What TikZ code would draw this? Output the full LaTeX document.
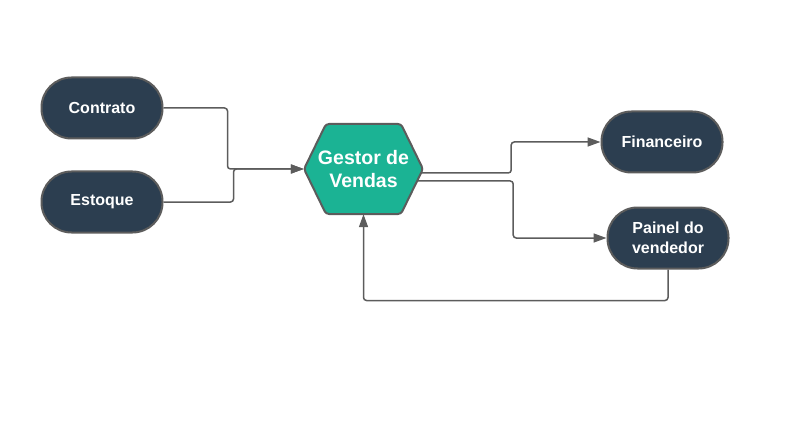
\documentclass[tikz,border=0pt]{standalone}
\usepackage{fontspec}
\setmainfont{Liberation Sans}
\usepackage{tikz}
\usetikzlibrary{calc,arrows.meta}
\definecolor{navy}{RGB}{44, 62, 80}
\definecolor{hexgreen}{RGB}{27, 179, 148}
\definecolor{edge}{RGB}{92, 92, 92}

\begin{document}
\begin{tikzpicture}[x=1pt, y=-1pt, >={Triangle[length=13pt,width=9pt]},
    pill/.style={draw=edge, line width=2pt, fill=navy, rounded corners=30pt,
        minimum width=121pt, minimum height=61pt, inner sep=0pt,
        text=white, align=center, font=\bfseries\fontsize{16}{20}\selectfont},
    wire/.style={->, draw=edge, fill=none, line width=1.5pt, rounded corners=3pt}]
    \useasboundingbox (0,0) rectangle (797,422);

    % Inputs
    \node[pill] (contrato) at (102,108) {Contrato};
    \node[pill] (estoque) at (102,202) {Estoque};

    % Central hexagon
    \coordinate (g) at (363.5,169);
    \draw[edge, line width=2pt, fill=hexgreen, rounded corners=3pt]
        ($(g)+(-59.5,0)$) -- ($(g)+(-37.5,-45)$) -- ($(g)+(37.5,-45)$)
        -- ($(g)+(59.5,0)$) -- ($(g)+(37.5,45)$) -- ($(g)+(-37.5,45)$) -- cycle;
    \node[minimum width=119pt, minimum height=90pt, inner sep=0pt, text=white,
        align=center, font=\bfseries\fontsize{19.5}{23}\selectfont] (gestor) at (g) {Gestor de\\Vendas};

    % Outputs
    \node[pill] (financeiro) at (662,142) {Financeiro};
    \node[pill] (painel) at (668,238) {Painel do\\vendedor};

    % Connectors
    \draw[wire] (contrato.east) -- ++(64,0) |- (gestor.west);
    \draw[wire] (estoque.east) -- ++(70,0) |- (gestor.west);
    \draw[wire] ($(gestor.east)+(-2,4)$) -- ++(90,0) |- (financeiro.west);
    \draw[wire] ($(gestor.east)+(-6,12)$) -- ++(96,0) |- (painel.west);
    \draw[wire] (painel.south) -- ++(0,31) -| (gestor.south);
\end{tikzpicture}
\end{document}
